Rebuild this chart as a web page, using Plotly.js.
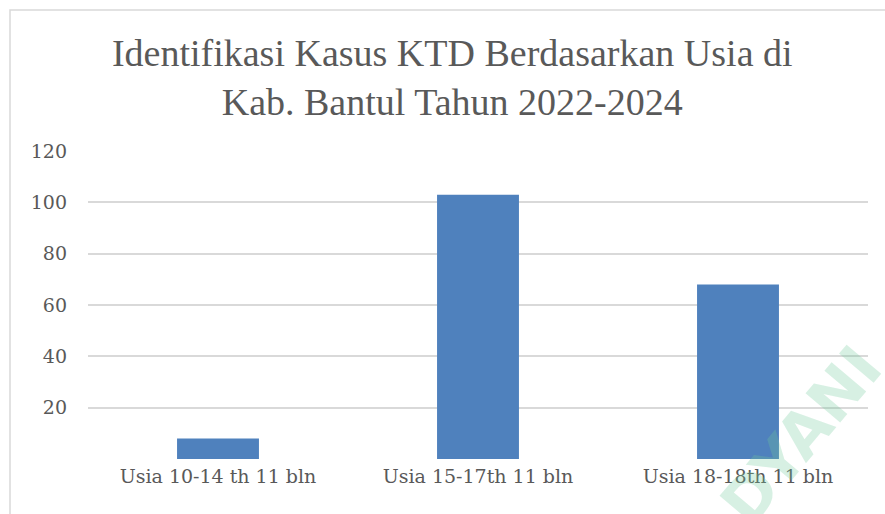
<!DOCTYPE html>
<html>
<head>
<meta charset="utf-8">
<script src="https://cdn.plot.ly/plotly-3.0.1.min.js"></script>
<style>html,body{margin:0;padding:0;background:#fff;}#chart{width:885px;height:514px;}</style>
</head>
<body>
<div id="chart"></div>
<script>
const categories = ["Usia 10-14 th 11 bln", "Usia 15-17th 11 bln", "Usia 18-18th 11 bln"];
const values = [8, 103, 68];
const tickValues = [0, 20, 40, 60, 80, 100, 120];
const tickLabels = ["", "20", "40", "60", "80", "100", "120"];
const titleText = "Identifikasi Kasus KTD Berdasarkan Usia di<br>Kab. Bantul Tahun 2022-2024";

const titleFont = "Liberation Serif, serif";
const tickFontFamily = "DejaVu Serif, serif";

const data = [{
  type: "bar",
  x: categories,
  y: values,
  marker: {color: "#4f81bd"},
  width: 0.315,
  hoverinfo: "x+y"
}];

const layout = {
  width: 885, height: 514,
  margin: {l: 88, r: 17, t: 151, b: 55},
  paper_bgcolor: "#ffffff",
  plot_bgcolor: "#ffffff",
  showlegend: false,
  font: {family: tickFontFamily, color: "#595959"},
  title: {
    text: titleText,
    font: {family: titleFont, size: 38, color: "#595959"},
    x: 0.511, xref: "container", xanchor: "center",
    y: 0.872, yref: "container", yanchor: "top"
  },
  xaxis: {
    type: "category",
    showgrid: false, zeroline: false, showline: false,
    ticks: "", ticklabelstandoff: 4,
    tickfont: {family: tickFontFamily, size: 19, color: "#595959"}
  },
  yaxis: {
    range: [0, 120],
    tickmode: "array", tickvals: tickValues, ticktext: tickLabels,
    showgrid: true, gridcolor: "#d9d9d9", gridwidth: 2,
    zeroline: false, showline: false, ticks: "",
    ticklabelstandoff: 20,
    tickfont: {family: tickFontFamily, size: 19, color: "#595959"}
  },
  shapes: [{
    type: "rect", xref: "paper", yref: "paper",
    x0: -0.1, x1: 1.05, y0: -0.25, y1: 1.458,
    line: {color: "#d9d9d9", width: 1.5}, fillcolor: "rgba(0,0,0,0)", layer: "below"
  }],
  annotations: [{
    text: "<b>DYANI</b>", xref: "paper", yref: "paper",
    x: 1.04, y: -0.27, showarrow: false, textangle: -50,
    font: {family: "DejaVu Sans, sans-serif", size: 62, color: "rgba(110,200,155,0.28)"}
  }]
};

Plotly.newPlot("chart", data, layout, {displayModeBar: false, staticPlot: true});
</script>
</body>
</html>
